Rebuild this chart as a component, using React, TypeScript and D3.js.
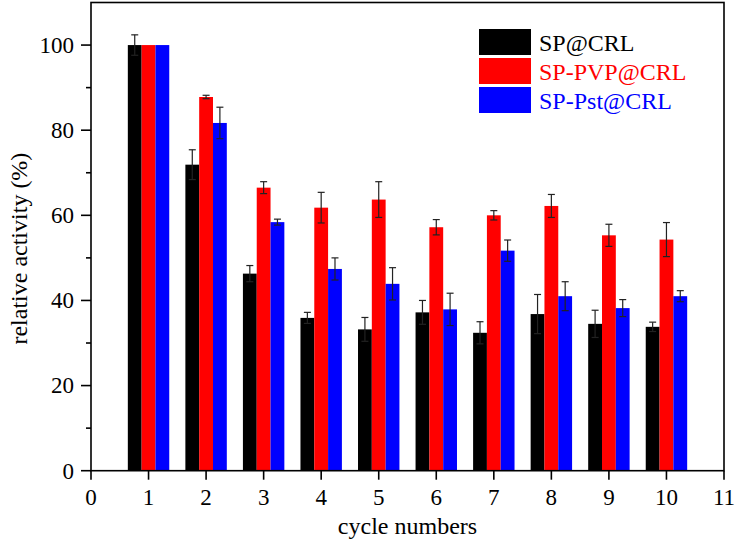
import React from "react";
import * as d3 from "d3";

const cycles = [1, 2, 3, 4, 5, 6, 7, 8, 9, 10];
const seriesNames = ["SP@CRL", "SP-PVP@CRL", "SP-Pst@CRL"];
const seriesColors = ["#000000", "#ff0000", "#0000ff"];
const spValues = [100, 71.9, 46.3, 35.9, 33.2, 37.2, 32.4, 36.8, 34.5, 33.8];
const spErrors = [2.4, 3.5, 1.9, 1.3, 2.8, 2.8, 2.6, 4.6, 3.2, 1.1];
const pvpValues = [100, 87.8, 66.5, 61.8, 63.7, 57.2, 60.0, 62.2, 55.3, 54.3];
const pvpErrors = [0, 0.4, 1.4, 3.6, 4.2, 1.8, 1.1, 2.7, 2.6, 4.0];
const pstValues = [100, 81.7, 58.4, 47.4, 43.9, 37.9, 51.7, 41.0, 38.2, 41.0];
const pstErrors = [0, 3.7, 0.7, 2.6, 3.8, 3.8, 2.5, 3.4, 2.0, 1.3];
const xTicks = [0, 1, 2, 3, 4, 5, 6, 7, 8, 9, 10, 11];
const yMajorTicks = [0, 20, 40, 60, 80, 100];
const yMinorTicks = [10, 30, 50, 70, 90];

const W = 737;
const H = 542;
const M = { left: 91, right: 13, top: 2.5, bottom: 71.3 };

export default function App() {
  const x = d3.scaleLinear().domain([0, 11]).range([M.left, W - M.right]);
  const y = d3.scaleLinear().domain([0, 110]).range([H - M.bottom, M.top]);
  const values = [spValues, pvpValues, pstValues];
  const errors = [spErrors, pvpErrors, pstErrors];
  const barW = 0.24;
  const offsets = [-1.5 * barW, -0.5 * barW, 0.5 * barW];
  const font = "'Liberation Serif', 'Times New Roman', serif";
  const y0 = y(0);

  return (
    <svg
      width={W}
      height={H}
      style={{ position: "absolute", left: 0, top: 0, background: "#fff" }}
      fontFamily={font}
    >
      <rect x={0} y={0} width={W} height={H} fill="#fff" />
      {values.map((vals, s) =>
        vals.map((v, i) => {
          const x0 = x(cycles[i] + offsets[s]);
          const x1 = x(cycles[i] + offsets[s] + barW);
          return (
            <rect
              key={`b${s}-${i}`}
              x={x0}
              y={y(v)}
              width={x1 - x0}
              height={y0 - y(v)}
              fill={seriesColors[s]}
            />
          );
        })
      )}
      {values.map((vals, s) =>
        vals.map((v, i) => {
          const e = errors[s][i];
          if (!e) return null;
          const cx = x(cycles[i] + offsets[s] + barW / 2);
          const cap = 3.5;
          return (
            <g key={`e${s}-${i}`} stroke="#222" strokeWidth={1.2}>
              <line x1={cx} x2={cx} y1={y(v - e)} y2={y(v + e)} />
              <line x1={cx - cap} x2={cx + cap} y1={y(v + e)} y2={y(v + e)} />
              <line x1={cx - cap} x2={cx + cap} y1={y(v - e)} y2={y(v - e)} />
            </g>
          );
        })
      )}
      {/* frame */}
      <rect
        x={M.left}
        y={M.top}
        width={W - M.right - M.left}
        height={H - M.bottom - M.top}
        fill="none"
        stroke="#000"
        strokeWidth={1.6}
      />
      {/* y ticks */}
      {yMajorTicks.map((t) => (
        <g key={`ym${t}`}>
          <line x1={M.left - 10} x2={M.left} y1={y(t)} y2={y(t)} stroke="#000" strokeWidth={1.6} />
          <text
            x={M.left - 17}
            y={y(t)}
            dy="0.34em"
            textAnchor="end"
            fontSize={23}
            fill="#000"
          >
            {t}
          </text>
        </g>
      ))}
      {yMinorTicks.map((t) => (
        <line key={`yn${t}`} x1={M.left - 5} x2={M.left} y1={y(t)} y2={y(t)} stroke="#000" strokeWidth={1.6} />
      ))}
      {/* x ticks */}
      {xTicks.map((t) => (
        <g key={`x${t}`}>
          <line x1={x(t)} x2={x(t)} y1={y0} y2={y0 + 9} stroke="#000" strokeWidth={1.6} />
          <text x={x(t)} y={505} textAnchor="middle" fontSize={23} fill="#000">
            {t}
          </text>
        </g>
      ))}
      <text x={(M.left + W - M.right) / 2} y={534} textAnchor="middle" fontSize={24} fill="#000">
        cycle numbers
      </text>
      <text
        transform={`translate(27, ${y(55) + 12}) rotate(-90)`}
        textAnchor="middle"
        fontSize={24}
        fill="#000"
      >
        relative activity (%)
      </text>
      {/* legend */}
      {seriesNames.map((n, s) => (
        <g key={`l${s}`}>
          <rect x={479} y={29 + s * 29} width={52} height={26} fill={seriesColors[s]} />
          <text x={539} y={51 + s * 29} fontSize={24} fill={seriesColors[s]}>
            {n}
          </text>
        </g>
      ))}
    </svg>
  );
}
